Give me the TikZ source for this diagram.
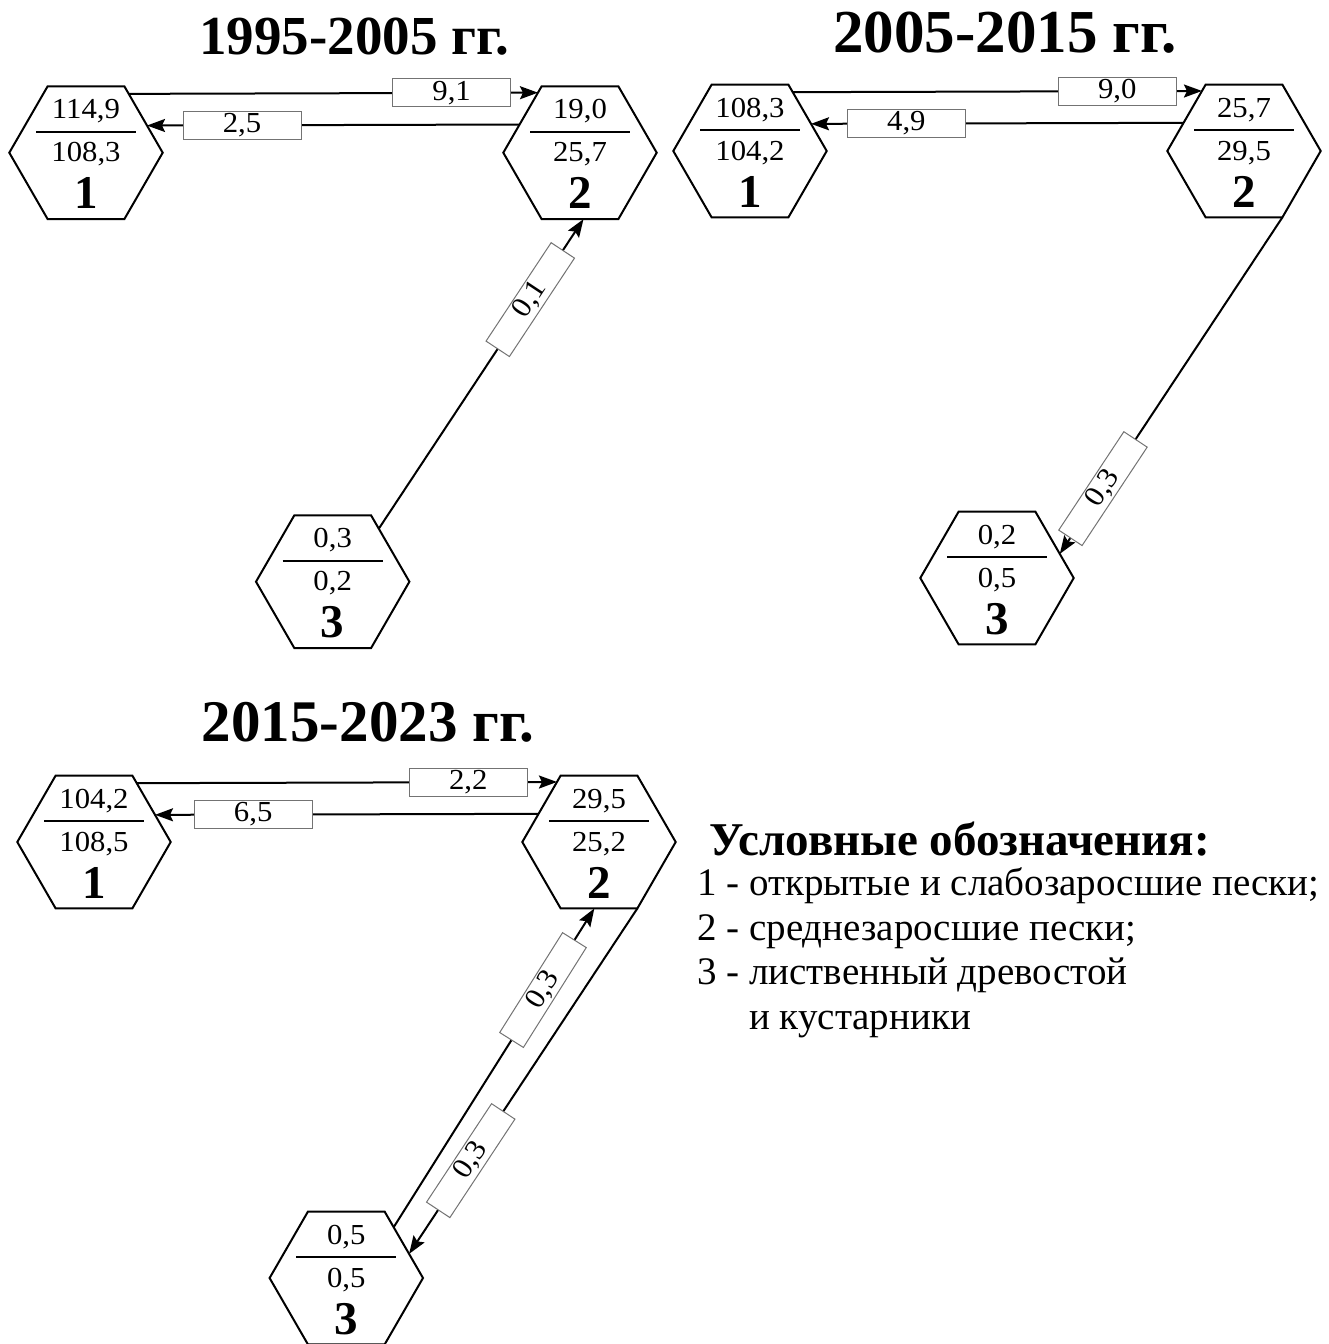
\documentclass[tikz,border=0pt]{standalone}
\usepackage{fontspec}
\setmainfont{Liberation Serif}
\newfontfamily\numfont[FakeStretch=1.06]{Liberation Serif}
\usetikzlibrary{shapes.geometric,arrows.meta}
\tikzset{
  hexa/.style={draw, line width=2pt, regular polygon, regular polygon sides=6,
    minimum size=153.4pt, inner sep=0pt, outer sep=0pt},
  num/.style={font=\numfont\fontsize{29}{29}\selectfont, inner sep=0pt, anchor=base},
  idn/.style={font=\fontsize{47}{47}\selectfont\bfseries, inner sep=0pt, anchor=base},
  fracline/.style={line width=2pt},
  conn/.style={line width=2pt, -{Stealth[length=18pt,width=13pt,inset=3pt]}},
  lbl/.style={draw=black!55, line width=1pt, fill=white, minimum width=118pt,
    minimum height=28pt, inner sep=0pt, font=\numfont\fontsize{29}{29}\selectfont},
  ttl/.style={font=\bfseries, inner sep=0pt, anchor=base},
  legh/.style={font=\fontsize{47}{50}\selectfont\bfseries, inner sep=0pt, anchor=base west},
  leg/.style={font=\fontsize{39}{42}\selectfont, inner sep=0pt, anchor=base west},
}
\newcommand\hexbox[5]{%
  \node[hexa] (#1) at #2 {};
  \node[num] (#1-top) at ([yshift=34pt]#1.center) {#3};
  \draw[fracline] ([xshift=-50pt,yshift=21pt]#1.center) -- ([xshift=50pt,yshift=21pt]#1.center);
  \node[num] (#1-bot) at ([yshift=-9pt]#1.center) {#4};
  \node[idn] (#1-id) at ([yshift=-56pt]#1.center) {#5};
}
\begin{document}
\begin{tikzpicture}[x=1pt,y=-1pt]
\useasboundingbox (0,0) rectangle (1329,1344);
% titles
\node[ttl,font=\fontsize{55}{60}\selectfont\bfseries] (t1) at (354,54) {1995-2005 гг.};
\node[ttl,font=\fontsize{61}{66}\selectfont\bfseries] (t2) at (1005,52) {2005-2015 гг.};
\node[ttl,font=\fontsize{59}{64}\selectfont\bfseries] (t3) at (368,741) {2015-2023 гг.};
% panel 1
\hexbox{a1}{(86,152.7)}{114,9}{108,3}{1}
\hexbox{a2}{(580,152.7)}{19,0}{25,7}{2}
\hexbox{a3}{(332.7,581.7)}{0,3}{0,2}{3}
\draw[conn] (a1.54.97) -- node[lbl,pos=0.789] (a12) {9,1} (a2.125.03);
\draw[conn] (a2.155.67) -- node[lbl,pos=0.745] (a21) {2,5} (a1.24.33);
\draw[conn] (a3.49.35) -- node[lbl,sloped,pos=0.74] (a32) {0,1} (a2.-87.4);
% panel 2
\hexbox{b1}{(750,151)}{108,3}{104,2}{1}
\hexbox{b2}{(1244,151)}{25,7}{29,5}{2}
\hexbox{b3}{(997,578)}{0,2}{0,5}{3}
\draw[conn] (b1.54.97) -- node[lbl,pos=0.793] (b12) {9,0} (b2.125.03);
\draw[conn] (b2.155.67) -- node[lbl,pos=0.744] (b21) {4,9} (b1.24.33);
\draw[conn] (b2.-60) -- node[lbl,sloped,pos=0.806] (b23) {0,3} (b3.21.6);
% panel 3
\hexbox{c1}{(94,842)}{104,2}{108,5}{1}
\hexbox{c2}{(599,842)}{29,5}{25,2}{2}
\hexbox{c3}{(346.3,1278)}{0,5}{0,5}{3}
\draw[conn] (c1.54.97) -- node[lbl,pos=0.789] (c12) {2,2} (c2.125.03);
\draw[conn] (c2.155.67) -- node[lbl,pos=0.744] (c21) {6,5} (c1.24.33);
\draw[conn] (c3.47.6) -- node[lbl,sloped,pos=0.744] (c32) {0,3} (c2.-94.3);
\draw[conn] (c2.-60) -- node[lbl,sloped,pos=0.73] (c23) {0,3} (c3.21.6);
% legend
\node[legh] (lh) at (709,855) {Условные обозначения:};
\node[leg] (l1) at (697,895) {1 - открытые и слабозаросшие пески;};
\node[leg] (l2) at (697,940) {2 - среднезаросшие пески;};
\node[leg] (l3) at (697,984) {3 - лиственный древостой};
\node[leg] (l4) at (697,1029) {\phantom{3 - }и кустарники};
\end{tikzpicture}
\end{document}
